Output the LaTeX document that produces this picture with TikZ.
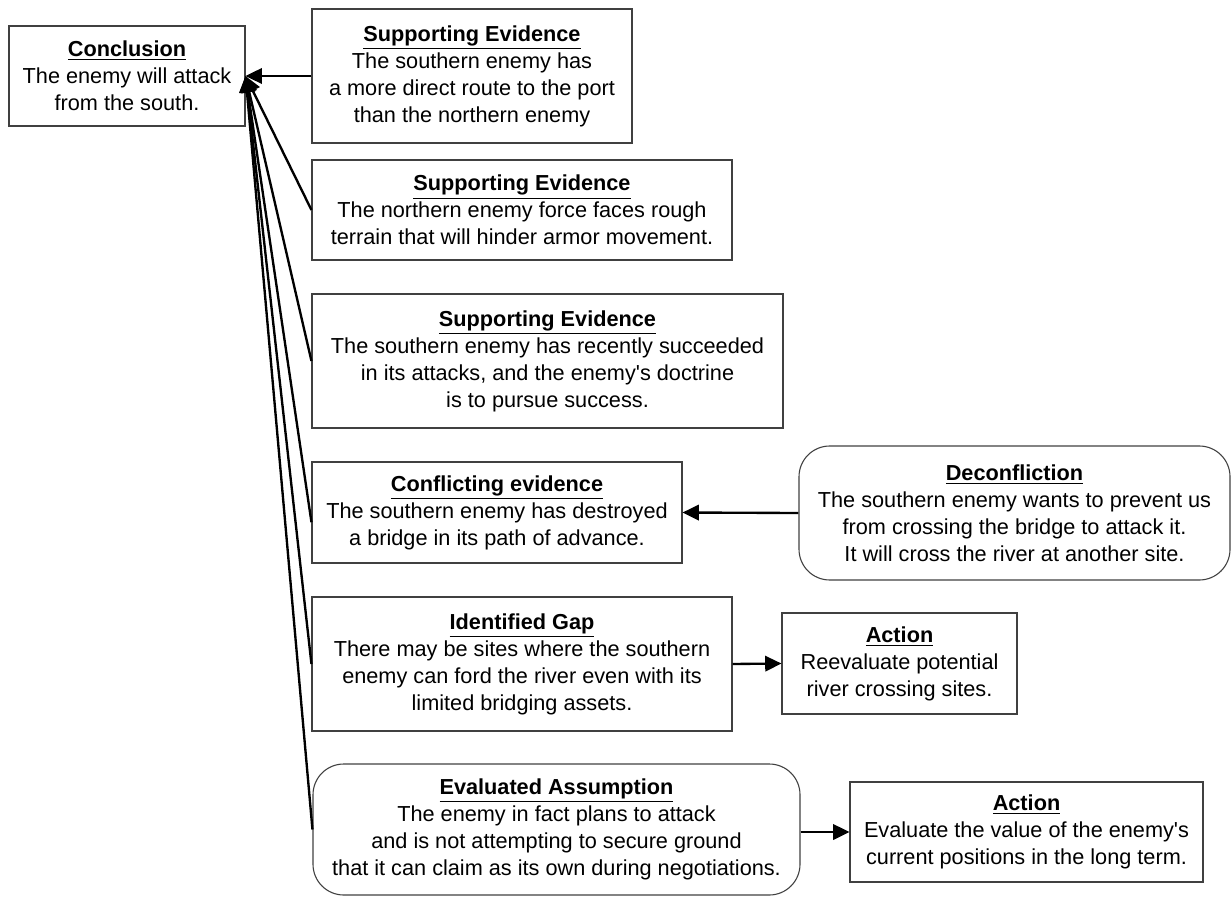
\documentclass[tikz,border=0pt]{standalone}
\usepackage{fontspec}
\setmainfont{Liberation Sans}
\usepackage{tikz}
\usetikzlibrary{arrows.meta}

\begin{document}
\begin{tikzpicture}[x=0.553pt,y=-0.553pt,
  box/.style={draw=black!75,line width=0.6pt,align=center,inner sep=0pt,font=\fontsize{12}{14.9}\selectfont},
  roundbox/.style={box,rounded corners=17pt},
  sz/.style 2 args={minimum width=#1*0.553pt,minimum height=#2*0.553pt},
  link/.style={line width=1.3pt,-{Triangle[length=9pt,width=8.5pt]}}]
\useasboundingbox (0,0) rectangle (1232,897);
\node[box,sz={236}{100}] (concl) at (127,76) {\underline{\textbf{Conclusion}}\\The enemy will attack\\from the south.};
\node[box,sz={320}{134}] (se1) at (472,76) {\underline{\textbf{Supporting Evidence}}\\The southern enemy has\\a more direct route to the port\\than the northern enemy};
\node[box,sz={420}{100}] (se2) at (522,210) {\underline{\textbf{Supporting Evidence}}\\The northern enemy force faces rough\\terrain that will hinder armor movement.};
\node[box,sz={471}{134}] (se3) at (547.5,361) {\underline{\textbf{Supporting Evidence}}\\The southern enemy has recently succeeded\\in its attacks, and the enemy\textquotesingle s doctrine\\is to pursue success.};
\node[box,sz={370}{101}] (confl) at (497,512.5) {\underline{\textbf{Conflicting evidence}}\\The southern enemy has destroyed\\a bridge in its path of advance.};
\node[roundbox,sz={431}{134}] (decon) at (1014.5,513) {\underline{\textbf{Deconfliction}}\\The southern enemy wants to prevent us\\from crossing the bridge to attack it.\\It will cross the river at another site.};
\node[box,sz={420}{134}] (gap) at (522,664) {\underline{\textbf{Identified Gap}}\\There may be sites where the southern\\enemy can ford the river even with its\\limited bridging assets.};
\node[box,sz={235}{101}] (act1) at (899.5,663.5) {\underline{\textbf{Action}}\\Reevaluate potential\\river crossing sites.};
\node[roundbox,sz={487}{131}] (eval) at (556.5,829.5) {\underline{\textbf{Evaluated Assumption}}\\The enemy in fact plans to attack\\and is not attempting to secure ground\\that it can claim as its own during negotiations.};
\node[box,sz={353}{100}] (act2) at (1026.5,832) {\underline{\textbf{Action}}\\Evaluate the value of the enemy\textquotesingle s\\current positions in the long term.};
\draw[link] (se1.west) -- (concl.east);
\draw[link] (se2.west) -- (concl.east);
\draw[link] (se3.west) -- (concl.east);
\draw[link] (confl.183) -- (concl.east);
\draw[link] (gap.west) -- (concl.east);
\draw[link] (eval.west) -- (concl.east);
\draw[link] (decon.west) -- (confl.east);
\draw[link] (gap.east) -- (act1.west);
\draw[link] (eval.east |- act2.west) -- (act2.west);
\end{tikzpicture}
\end{document}
